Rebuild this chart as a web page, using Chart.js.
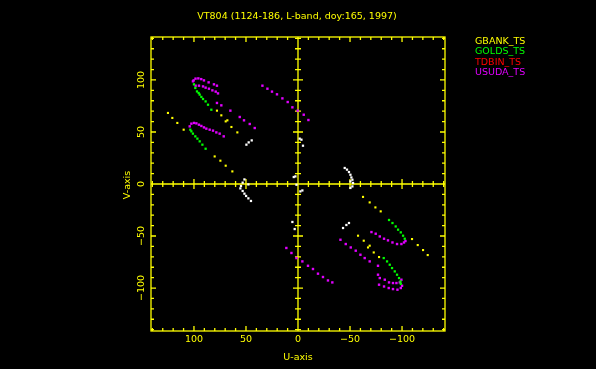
<!DOCTYPE html>
<html>
<head>
<meta charset="utf-8">
<script src="https://cdn.jsdelivr.net/npm/chart.js@4.4.1/dist/chart.umd.min.js"></script>
<style>
html,body{margin:0;padding:0;background:#000;}
#wrap{width:596px;height:369px;position:relative;}
</style>
</head>
<body>
<div id="wrap"><canvas id="c" width="596" height="369"></canvas></div>
<script>
const titleText = "VT804 (1124-186, L-band, doy:165, 1997)";
const xTitle = "U-axis";
const yTitle = "V-axis";
const tickValues = [-100, -50, 0, 50, 100];
const seriesNames = ["GBANK_TS", "GOLDS_TS", "TDBIN_TS", "USUDA_TS"];
const seriesColors = ["#ffff00", "#00ff00", "#ff0000", "#e100ff"];

// [u, v] pairs
const gbank = [
  [125,68.3],[120.8,63.5],[116,58.7],[109.9,52.2],
  [77.9,70.5],[73.7,66],[69.5,60.2],[67.9,61.2],[64,54.8],[58.3,49.6],
  [80.1,26.5],[74.6,22.4],[69.5,17.6],[63.1,12.1],
  [-62.5,-12.4],[-68.9,-17.7],[-74.4,-22.5],[-79.5,-26.3],
  [-57.7,-49.7],[-63.2,-54.5],[-68.9,-59.3],[-67.3,-61],[-72.8,-65.8],[-77.9,-70.2],
  [-109.6,-52.9],[-115.1,-58.7],[-120.2,-63.5],[-124.7,-68.3]
];
const golds = [
  [100,95.8],[98.7,92.3],[97.1,89],[95.5,87.5],[94.5,85.9],[92.9,83.7],[91.3,81.7],[88.8,79.4],[86.5,76.2],[83.3,71.4],
  [103.5,52.2],[102.5,50.6],[101,48.4],[98.7,45.8],[96.7,43.6],[94.5,41],[91.9,37.8],[88.8,33.9],
  [-87.5,-34.6],[-90.8,-37.5],[-93.9,-40.8],[-96.2,-43.9],[-98.8,-46.5],[-101,-49.7],[-102.6,-52.6],
  [-82.4,-71.2],[-85.6,-74.4],[-88.2,-77.6],[-90.4,-80.8],[-93,-84],[-95.2,-87.2],[-97.1,-90.4],[-98.5,-93.7],[-98.8,-95.9]
];
const tdbin = [];
const usuda = [
  [101,98.7],[100.3,99.6],[98.5,101.3],[95.8,101.5],[93,100.8],[90.4,99.6],[85.9,97.7],[80.8,95.8],[77.9,94.5],
  [98.4,94.5],[95.2,94.5],[91.3,93.8],[88.8,92.6],[85.6,91.6],[82.3,90],[79.1,88.8],[76.9,87.1],
  [77.9,77.9],[73.7,75.6],[65,70.5],[56,64.4],[51.9,61.2],[46.4,57.7],[41.6,53.8],
  [104.1,55.4],[102.5,58],[100,58.7],[97.7,58.3],[95.2,57],[92.9,55.8],[90.4,54.4],[88.1,53.2],[84.9,52.2],[81.7,51.3],[78.5,49.6],[75.3,48.4],[71.4,45.8],
  [34.2,94.5],[29.4,91.6],[25,88.8],[20.2,86.2],[15,82.3],[9.9,78.8],[5.4,73.7],[0.3,70.5],[-5.5,66.6],[-10,61.5],
  [11.2,-61.5],[6.3,-66.3],[1.5,-71.2],[-4.2,-74.4],[-9.6,-78.6],[-14.4,-81.7],[-19.2,-86.2],[-24,-89.4],[-28.8,-92.7],[-33,-94.6],
  [-70.6,-46.2],[-74.7,-47.8],[-78.6,-50.4],[-82.7,-52.6],[-86.5,-54.2],[-90.8,-56.2],[-95.2,-57.7],[-99.4,-57.7],[-101.9,-56.2],[-103.3,-54.8],
  [-40.8,-53.6],[-45.9,-57.7],[-50.7,-61],[-55.5,-64.1],[-60,-68],[-64.1,-71.2],[-68.9,-74.4],[-76.9,-78.6],
  [-76.9,-87.2],[-78.6,-90.4],[-83.4,-92],[-87.5,-94.6],[-91.3,-95.2],[-94.6,-95.2],[-97.8,-94.6],[-99.4,-92],
  [-77.9,-96.8],[-82.7,-98.5],[-87.2,-100],[-91.3,-101],[-95.6,-101.6],[-98.8,-100],[-100,-97.8]
];
const other = [
  [49.6,37.8],[47.4,40],[44.5,41.9],
  [51.5,4.4],[53.2,1.3],[54.8,-1.9],[55.4,-4.2],[53.2,-6.7],[51.5,-9.3],[49.9,-11.5],[47.7,-13.8],[45.2,-16.3],[47.7,-0.4],
  [-1.6,43.6],[-3.3,42.6],[-4.8,36.8],[4.1,6.7],[2.5,7.3],[1.5,-0.7],[-2.3,-7.1],[-4.2,-6.2],[5.4,-36.5],[3.2,-43.3],
  [-44.9,15.4],[-47.1,13.8],[-49,11.5],[-50.4,8.9],[-51.3,6.3],[-52.3,4.1],[-50.4,2.5],[-52.9,1],[-52.3,-2.3],[-50.4,-3.8],
  [-43.3,-42.3],[-46.5,-39.4],[-49,-37.5]
];

const AX = "#ffff00";
const LIM = 141.3;
const toPts = a => a.map(p => ({x: p[0], y: p[1]}));

function ds(label, arr, color, r) {
  return {label, data: toPts(arr), backgroundColor: color, borderColor: color,
    pointStyle: 'rect', pointRadius: r, pointBorderWidth: 0, pointHoverRadius: r, showLine: false};
}

const FONT = '9.5px "DejaVu Sans"';

const framePlugin = {
  id: 'frame',
  beforeDatasetsDraw(chart) {
    const ctx = chart.ctx, xs = chart.scales.x, ys = chart.scales.y, a = chart.chartArea;
    ctx.save();
    ctx.strokeStyle = AX; ctx.lineWidth = 1.3;
    ctx.strokeRect(a.left, a.top, a.right - a.left, a.bottom - a.top);
    const x0 = xs.getPixelForValue(0), y0 = ys.getPixelForValue(0);
    ctx.beginPath();
    ctx.moveTo(a.left, y0); ctx.lineTo(a.right, y0);
    ctx.moveTo(x0, a.top); ctx.lineTo(x0, a.bottom);
    for (let v = -140; v <= 140; v += 10) {
      const major = v % 50 === 0;
      const px = xs.getPixelForValue(v), py = ys.getPixelForValue(v);
      const L = major ? 5 : 3;
      const C = major ? 5 : 3;
      ctx.moveTo(px, a.bottom); ctx.lineTo(px, a.bottom - L);
      ctx.moveTo(px, a.top); ctx.lineTo(px, a.top + L);
      ctx.moveTo(a.left, py); ctx.lineTo(a.left + L, py);
      ctx.moveTo(a.right, py); ctx.lineTo(a.right - L, py);
      ctx.moveTo(px, y0 - C); ctx.lineTo(px, y0 + C);
      ctx.moveTo(x0 - C, py); ctx.lineTo(x0 + C, py);
    }
    ctx.stroke();
    ctx.restore();
  },
  afterDraw(chart) {
    const ctx = chart.ctx, xs = chart.scales.x, ys = chart.scales.y;
    ctx.save();
    ctx.fillStyle = AX;
    ctx.textAlign = 'center'; ctx.textBaseline = 'middle';
    ctx.font = FONT;
    ctx.fillText(titleText, 297, 17);
    tickValues.forEach(v => {
      ctx.fillText(String(v).replace('-', '\u2212'), xs.getPixelForValue(v), 340);
    });
    ctx.fillText(xTitle, 298, 358);
    tickValues.forEach(v => {
      ctx.save();
      ctx.translate(141.5, ys.getPixelForValue(v));
      ctx.rotate(-Math.PI / 2);
      ctx.fillText(String(v).replace('-', '\u2212'), 0, 0);
      ctx.restore();
    });
    ctx.save();
    ctx.translate(128, 185);
    ctx.rotate(-Math.PI / 2);
    ctx.fillText(yTitle, 0, 0);
    ctx.restore();
    ctx.textAlign = 'left';
    seriesNames.forEach((n, i) => {
      ctx.fillStyle = seriesColors[i];
      ctx.fillText(n, 475, 41.5 + i * 10.5);
    });
    ctx.restore();
  }
};

new Chart(document.getElementById('c'), {
  type: 'scatter',
  data: {
    datasets: [
      ds(seriesNames[0], gbank, seriesColors[0], 1.5),
      ds(seriesNames[1], golds, seriesColors[1], 1.6),
      ds(seriesNames[2], tdbin, seriesColors[2], 1.5),
      ds(seriesNames[3], usuda, seriesColors[3], 1.7),
      ds('other', other, '#ffffff', 1.6)
    ]
  },
  options: {
    responsive: false, animation: false, devicePixelRatio: 1,
    layout: {padding: {left: 151, right: 151, top: 37, bottom: 38}},
    plugins: {legend: {display: false}, title: {display: false}, tooltip: {enabled: false}},
    scales: {
      x: {type: 'linear', min: -LIM, max: LIM, reverse: true, display: false},
      y: {type: 'linear', min: -LIM, max: LIM, display: false}
    }
  },
  plugins: [framePlugin, {id: 'bg', beforeDraw(c) { c.ctx.save(); c.ctx.fillStyle = '#000'; c.ctx.fillRect(0, 0, c.width, c.height); c.ctx.restore(); }}]
});
</script>
</body>
</html>
